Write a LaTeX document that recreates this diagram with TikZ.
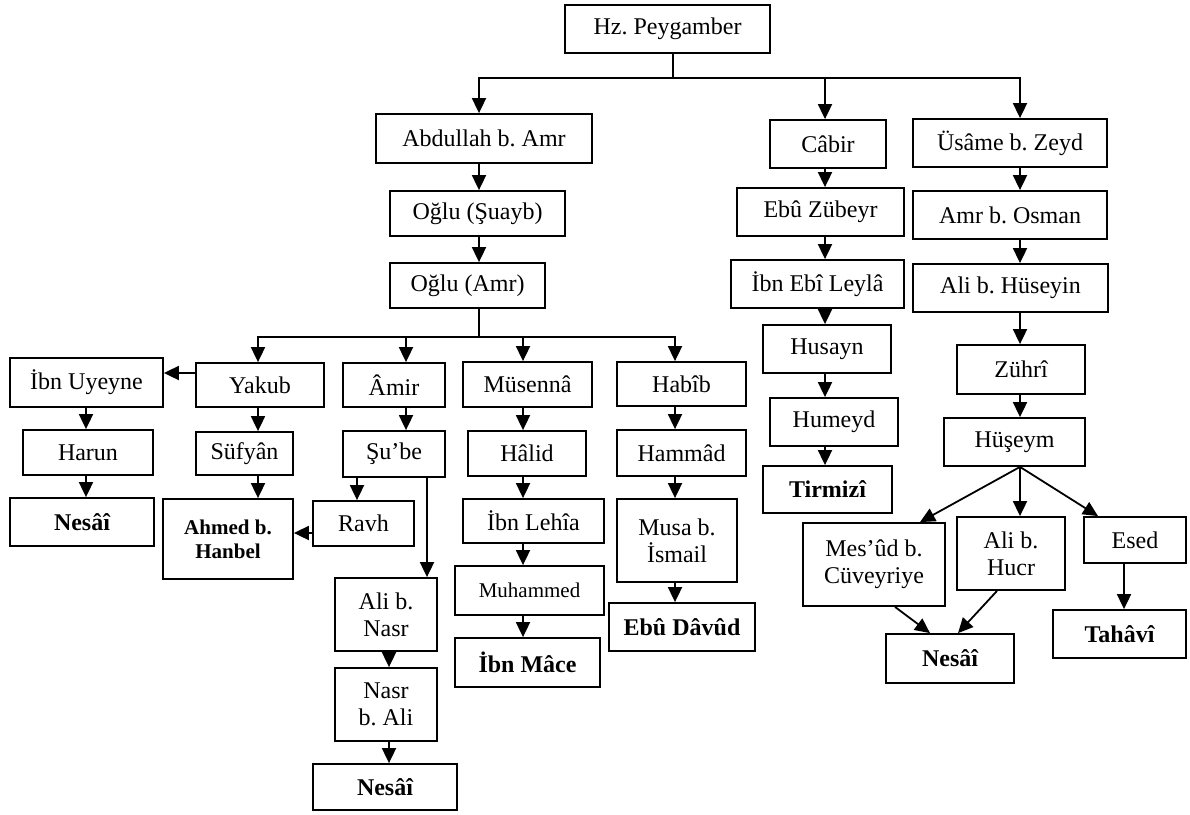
\documentclass[tikz,border=0pt]{standalone}
\usepackage{fontspec}
\setmainfont{Liberation Serif}
\usetikzlibrary{arrows.meta}
\frenchspacing
\newcommand\Bx[7][]{\node[box,#1,minimum width={#4-#3},minimum height={#6-#5}] (#2) at ({(#3+#4)/2},{-(#5+#6)/2}) {#7};}
\tikzset{
  box/.style={draw, line width=1.8pt, inner sep=0pt, align=center, font=\fontsize{24}{27}\selectfont\frenchspacing},
  term/.style={font=\fontsize{24}{27}\selectfont\bfseries},
  smallterm/.style={font=\fontsize{21}{24}\selectfont\bfseries\frenchspacing},
  small/.style={font=\fontsize{21}{24}\selectfont},
  ln/.style={line width=1.8pt},
  arr/.style={line width=1.8pt, -{Triangle[width=14pt,length=15pt]}}
}
\begin{document}
\begin{tikzpicture}[x=1pt,y=1pt]
\useasboundingbox (0,0) rectangle (1190,-814);
% column / level coordinates
\coordinate (cTop) at (673,0);
\coordinate (cAb) at (479,0);
\coordinate (cCa) at (825,0);
\coordinate (cUs) at (1020,0);
\coordinate (cYa) at (258,0);
\coordinate (cAm) at (406,0);
\coordinate (cMu) at (523,0);
\coordinate (cHa) at (675,0);
\coordinate (cIu) at (86,0);
\coordinate (cSr) at (357,0);
\coordinate (cSa) at (427,0);
\coordinate (cNa) at (389,0);
\coordinate (cEs) at (1124,0);
\coordinate (cMe) at (920,0);
\coordinate (cEd) at (1098,0);
\coordinate (cM1) at (895,0);
\coordinate (cM2) at (930,0);
\coordinate (cH1) at (997,0);
\coordinate (cH2) at (958,0);
\coordinate (rY) at (0,-373);
\coordinate (rR) at (0,-533);
\coordinate (bTop) at (673,-78);
\coordinate (bMid) at (479,-337);
% nodes
\Bx{hz}{565}{770}{5}{53}{Hz. Peygamber}
\Bx{abd}{376}{592}{114}{163}{Abdullah b. Amr}
\Bx{cab}{770}{886}{120}{168}{Câbir}
\Bx{usa}{913}{1107}{119}{167}{Üsâme b. Zeyd}
\Bx{sua}{390}{565}{191}{236}{Oğlu (Şuayb)}
\Bx{oam}{390}{545}{263}{308}{Oğlu (Amr)}
\Bx{iuy}{10}{163}{358}{407}{İbn Uyeyne}
\Bx{yak}{196}{324}{363}{407}{Yakub}
\Bx{ami}{343}{445}{363}{407}{Âmir}
\Bx{mus}{463}{592}{362}{407}{Müsennâ}
\Bx{hab}{617}{746}{362}{406}{Habîb}
\Bx{har}{23}{153}{430}{475}{Harun}
\Bx{suf}{196}{293}{432}{475}{Süfyân}
\Bx{sub}{343}{445}{431}{477}{Şu’be}
\Bx{hal}{468}{586}{431}{476}{Hâlid}
\Bx{ham}{617}{746}{430}{476}{Hammâd}
\Bx[term]{nesA}{10}{154}{498}{546}{Nesâî}
\Bx[smallterm]{ahm}{163}{293}{499}{579}{Ahmed b.\\Hanbel}
\Bx{rav}{313}{414}{501}{546}{Ravh}
\Bx{ile}{463}{604}{499}{543}{İbn Lehîa}
\Bx{msa}{617}{737}{499}{582}{Musa b.\\İsmail}
\Bx[small]{muh}{455}{604}{566}{615}{Muhammed}
\Bx{aln}{335}{437}{578}{651}{Ali b.\\Nasr}
\Bx[term]{ebd}{609}{755}{603}{651}{Ebû Dâvûd}
\Bx[term]{ima}{455}{600}{638}{687}{İbn Mâce}
\Bx{nba}{335}{437}{668}{741}{Nasr\\b. Ali}
\Bx[term]{nesB}{313}{457}{764}{810}{Nesâî}
\Bx{ebz}{737}{904}{188}{236}{Ebû Zübeyr}
\Bx{ieb}{731}{904}{260}{308}{İbn Ebî Leylâ}
\Bx{hsy}{763}{891}{325}{373}{Husayn}
\Bx{hum}{770}{898}{398}{446}{Humeyd}
\Bx[term]{tir}{763}{892}{466}{513}{Tirmizî}
\Bx{aos}{913}{1107}{191}{239}{Amr b. Osman}
\Bx{ahu}{913}{1108}{264}{312}{Ali b. Hüseyin}
\Bx{zuh}{957}{1085}{345}{394}{Zührî}
\Bx{hsm}{944}{1085}{418}{466}{Hüşeym}
\Bx{mes}{803}{945}{523}{606}{Mes’ûd b.\\Cüveyriye}
\Bx{ahc}{957}{1065}{517}{590}{Ali b.\\Hucr}
\Bx{esd}{1084}{1186}{517}{563}{Esed}
\Bx[term]{nesC}{886}{1014}{634}{683}{Nesâî}
\Bx[term]{tah}{1053}{1186}{610}{658}{Tahâvî}
% top branch
\draw[ln] (hz.south -| cTop) -- (bTop);
\draw[arr] (bTop) -| (abd.north -| cAb);
\draw[arr] (bTop) -| (cab.north -| cCa);
\draw[arr] (bTop) -| (usa.north -| cUs);
% Abdullah chain
\draw[arr] (abd.south -| cAb) -- (sua.north -| cAb);
\draw[arr] (sua.south -| cAb) -- (oam.north -| cAb);
\draw[ln] (oam.south -| cAb) -- (bMid);
\draw[arr] (bMid) -| (yak.north -| cYa);
\draw[arr] (bMid) -| (ami.north -| cAm);
\draw[arr] (bMid) -| (mus.north -| cMu);
\draw[arr] (bMid) -| (hab.north -| cHa);
% Yakub
\draw[arr] (yak.west |- rY) -- (iuy.east |- rY);
\draw[arr] (iuy.south -| cIu) -- (har.north -| cIu);
\draw[arr] (har.south -| cIu) -- (nesA.north -| cIu);
\draw[arr] (yak.south -| cYa) -- (suf.north -| cYa);
\draw[arr] (suf.south -| cYa) -- (ahm.north -| cYa);
% Amir
\draw[arr] (ami.south -| cAm) -- (sub.north -| cAm);
\draw[arr] (sub.south -| cSr) -- (rav.north -| cSr);
\draw[arr] (sub.south -| cSa) -- (aln.north -| cSa);
\draw[arr] (rav.west |- rR) -- (ahm.east |- rR);
\draw[arr] (aln.south -| cNa) -- (nba.north -| cNa);
\draw[arr] (nba.south -| cNa) -- (nesB.north -| cNa);
% Musenna
\draw[arr] (mus.south -| cMu) -- (hal.north -| cMu);
\draw[arr] (hal.south -| cMu) -- (ile.north -| cMu);
\draw[arr] (ile.south -| cMu) -- (muh.north -| cMu);
\draw[arr] (muh.south -| cMu) -- (ima.north -| cMu);
% Habib
\draw[arr] (hab.south -| cHa) -- (ham.north -| cHa);
\draw[arr] (ham.south -| cHa) -- (msa.north -| cHa);
\draw[arr] (msa.south -| cHa) -- (ebd.north -| cHa);
% Cabir chain
\draw[arr] (cab.south -| cCa) -- (ebz.north -| cCa);
\draw[arr] (ebz.south -| cCa) -- (ieb.north -| cCa);
\draw[arr] (ieb.south -| cCa) -- (hsy.north -| cCa);
\draw[arr] (hsy.south -| cCa) -- (hum.north -| cCa);
\draw[arr] (hum.south -| cCa) -- (tir.north -| cCa);
% Usame chain
\draw[arr] (usa.south -| cUs) -- (aos.north -| cUs);
\draw[arr] (aos.south -| cUs) -- (ahu.north -| cUs);
\draw[arr] (ahu.south -| cUs) -- (zuh.north -| cUs);
\draw[arr] (zuh.south -| cUs) -- (hsm.north -| cUs);
\draw[arr] (hsm.south -| cUs) -- (mes.north -| cMe);
\draw[arr] (hsm.south -| cUs) -- (ahc.north -| cUs);
\draw[arr] (hsm.south -| cUs) -- (esd.north -| cEd);
\draw[arr] (mes.south -| cM1) -- (nesC.north -| cM2);
\draw[arr] (ahc.south -| cH1) -- (nesC.north -| cH2);
\draw[arr] (esd.south -| cEs) -- (tah.north -| cEs);
\end{tikzpicture}
\end{document}
